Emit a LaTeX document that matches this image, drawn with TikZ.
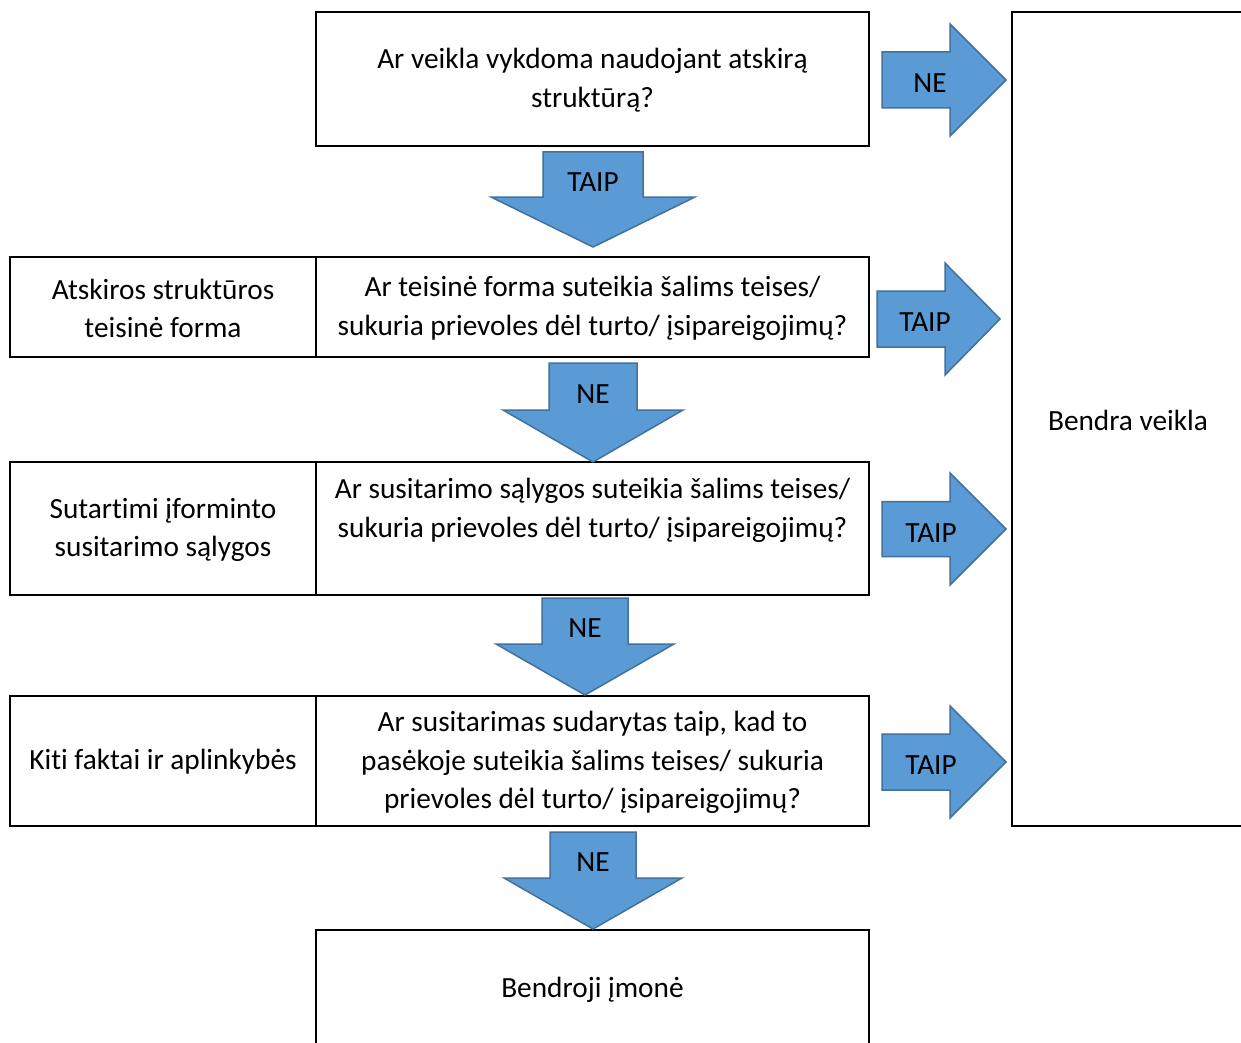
\documentclass[tikz,border=0pt]{standalone}
\usepackage{fontspec}
\setmainfont{Carlito}[Ligatures={NoCommon}]
\definecolor{arrfill}{HTML}{5B9BD5}
\definecolor{arrline}{HTML}{41719C}
\newcommand\fsz{\fontsize{29.3}{38.5}\selectfont}
\newcommand\dnarr[6]{%
  \draw[arr] (#1-#3,#2) -- (#1+#3,#2) -- (#1+#3,#4) -- (#1+#5,#4) -- (#1,#6) -- (#1-#5,#4) -- (#1-#3,#4) -- cycle;}
\newcommand\rtarr[6]{%
  \draw[arr] (#1,#2-#3) -- (#4,#2-#3) -- (#4,#2-#5) -- (#6,#2) -- (#4,#2+#5) -- (#4,#2+#3) -- (#1,#2+#3) -- cycle;}
\begin{document}
\begin{tikzpicture}[x=1pt,y=-1pt,
  box/.style={draw=black,line width=2pt,inner sep=0pt,align=center,font=\fsz},
  txt/.style={inner sep=0pt,align=center,font=\fsz},
  arr/.style={fill=arrfill,draw=arrline,line width=1.5pt,line join=miter},
  lbl/.style={inner sep=0pt,font=\fsz}]
\useasboundingbox (0,0) rectangle (1241,1043);
\clip (0,0) rectangle (1241,1043);
\fill[white] (0,0) rectangle (1241,1043);
% boxes
\node[box,minimum width=553,minimum height=134] (q1) at (592.5,79) {};
\node[txt] (q1t) at (592.5,80) {Ar veikla vykdoma naudojant atskirą\\struktūrą?};
\node[box,minimum width=306,minimum height=100] (l2) at (163,307) {};
\node[txt] (l2t) at (163,308.5) {Atskiros struktūros\\teisinė forma};
\node[box,minimum width=553,minimum height=100] (q2) at (592.5,307) {};
\node[txt] (q2t) at (592.5,308.5) {Ar teisinė forma suteikia šalims teises/\\sukuria prievoles dėl turto/ įsipareigojimų?};
\node[box,minimum width=306,minimum height=133] (l3) at (163,528.5) {};
\node[txt] (l3t) at (163,530) {Sutartimi įforminto\\susitarimo sąlygos};
\node[box,minimum width=553,minimum height=133] (q3) at (592.5,528.5) {};
\node[txt] (q3t) at (592.5,510.5) {Ar susitarimo sąlygos suteikia šalims teises/\\sukuria prievoles dėl turto/ įsipareigojimų?};
\node[box,minimum width=306,minimum height=130] (l4) at (163,761) {};
\node[txt] (l4t) at (163,762) {Kiti faktai ir aplinkybės};
\node[box,minimum width=553,minimum height=130] (q4) at (592.5,761) {};
\node[txt] (q4t) at (592.5,762.5) {Ar susitarimas sudarytas taip, kad to\\pasėkoje suteikia šalims teises/ sukuria\\prievoles dėl turto/ įsipareigojimų?};
\node[box,minimum width=553,minimum height=116] (bj) at (592.5,988) {};
\node[txt] (bjt) at (592.5,990) {Bendroji įmonė};
\node[box,minimum width=232,minimum height=814] (bv) at (1128,419) {};
\node[txt] (bvt) at (1128,420) {Bendra veikla};
% down arrows
\dnarr{593}{152}{50}{197}{102}{247}
\dnarr{593}{363}{44}{410}{90}{462}
\dnarr{585}{598}{43}{644}{89}{695}
\dnarr{593}{832}{43}{878}{89}{929}
% right arrows
\rtarr{882}{80}{28}{950}{56}{1006}
\rtarr{877}{319}{28}{945}{56}{1000}
\rtarr{882}{529}{27.5}{950}{56}{1006}
\rtarr{882}{762}{28}{950}{56}{1006}
% labels
\node[lbl] (d1) at (593,182) {TAIP};
\node[lbl] (d2) at (593,394) {NE};
\node[lbl] (d3) at (585,628) {NE};
\node[lbl] (d4) at (593,862) {NE};
\node[lbl] (r1) at (930,83) {NE};
\node[lbl] (r2) at (925,322) {TAIP};
\node[lbl] (r3) at (931,533) {TAIP};
\node[lbl] (r4) at (931,765) {TAIP};
\end{tikzpicture}
\end{document}
